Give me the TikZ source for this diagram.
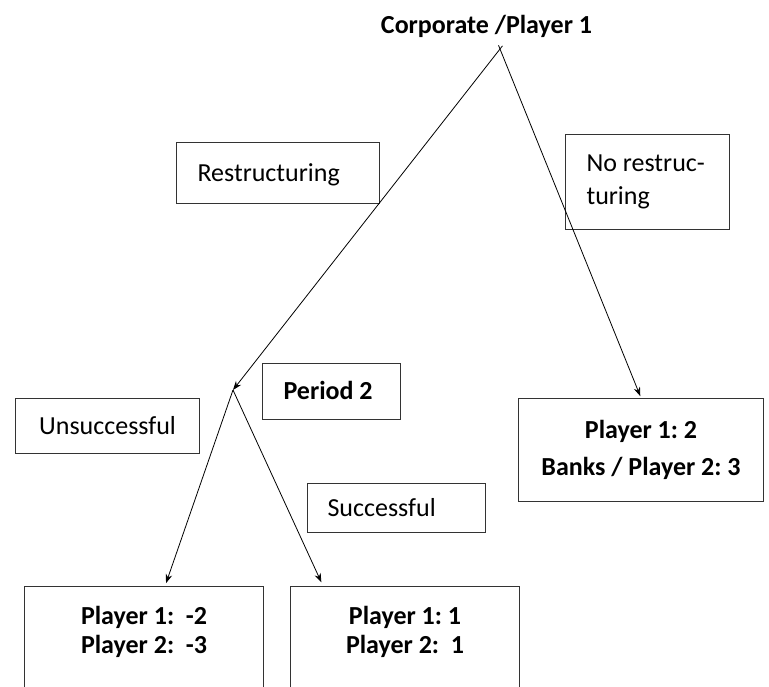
\documentclass[tikz,border=0pt]{standalone}
\usepackage{fontspec}
\setmainfont{Carlito}
\usetikzlibrary{arrows.meta,positioning}
\frenchspacing

\begin{document}
\begin{tikzpicture}[
    x=1pt, y=-1pt,
    lbl/.style={rectangle, draw=black!80, line width=1.1pt, font=\fontsize{26}{33}\selectfont, inner ysep=0pt, text height=20pt, text depth=4pt, align=flush left, anchor=north west},
    payoff/.style={rectangle, draw=black!80, line width=1.1pt, font=\fontsize{26}{29}\selectfont\bfseries, inner ysep=0pt, align=center, anchor=north west},
    arrow/.style={-{Stealth[length=9pt,width=6.5pt]}, line width=0.8pt}
]
\useasboundingbox (0,0) rectangle (769,686);
\clip (0,0) rectangle (769,686);

\node[font=\fontsize{26}{32}\selectfont\bfseries, anchor=base] (corp) at (486.5,33) {Corporate /Player 1};
\coordinate (root) at (500,49);
\coordinate (p2) at (233,390);

\node[lbl, inner xsep=21pt, text width=161pt, minimum height=61pt] (restr) at (176,142) {Restructuring};
\node[lbl, text height=, text depth=, inner xsep=21pt, text width=122pt, minimum height=95pt] (norestr) at (565,134) {No restruc-\\turing};
\node[lbl, font=\fontsize{26}{33}\selectfont\bfseries, inner xsep=21pt, text width=96pt, minimum height=56pt] (period) at (262,363) {Period 2};
\node[lbl, align=center, inner xsep=21pt, text width=142pt, minimum height=55pt] (unsucc) at (15,398) {Unsuccessful};
\node[lbl, inner xsep=20pt, text width=138pt, minimum height=49pt] (succ) at (307,483) {Successful};

\node[payoff, font=\fontsize{26}{37}\selectfont\bfseries, minimum width=245pt, minimum height=103pt] (banks) at (518,398) {Player 1: 2\\Banks / Player 2: 3};
\node[payoff, minimum width=239pt, text height=67pt, text depth=130pt] (lose) at (24,586) {Player 1: \ -2\\Player 2: \ -3};
\node[payoff, minimum width=229pt, text height=67pt, text depth=130pt] (win) at (290,586) {Player 1: 1\\Player 2: \ 1};

\draw[arrow, shorten <=-4pt] (root) -- (p2);
\draw[arrow, shorten <=-4pt, shorten >=2pt] (root) -- (banks.north);
\draw[arrow, shorten >=3pt] (p2) -- ([xshift=21pt]lose.north);
\draw[arrow, shorten >=4pt] (p2) -- ([xshift=-82pt]win.north);
\end{tikzpicture}
\end{document}
